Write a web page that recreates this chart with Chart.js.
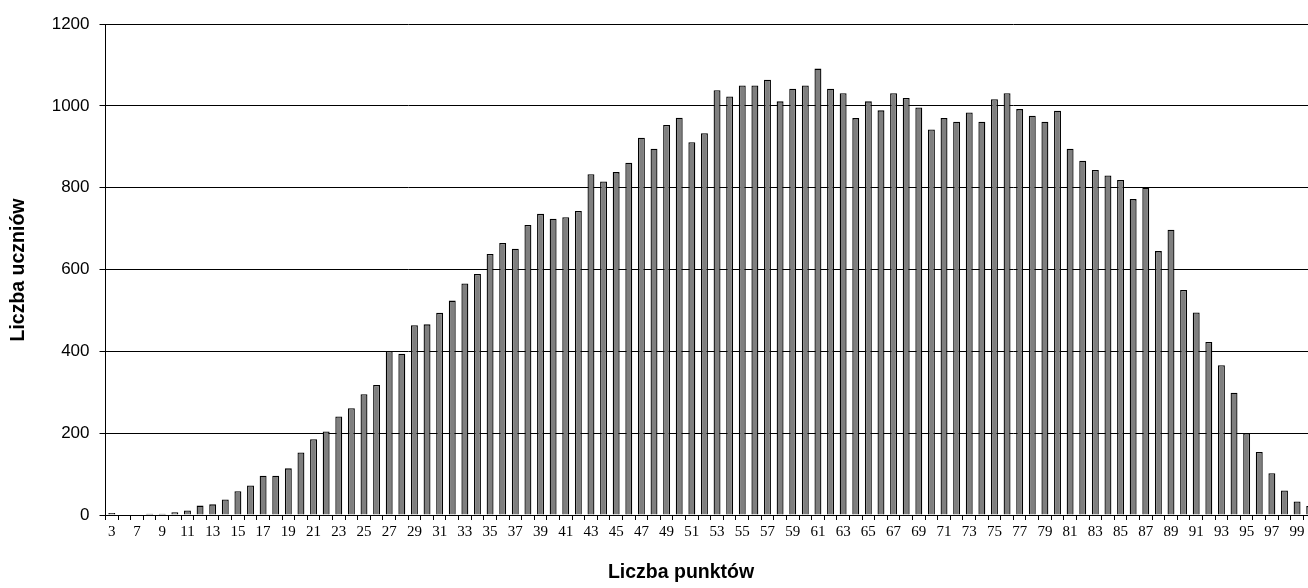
<!DOCTYPE html>
<html>
<head>
<meta charset="utf-8">
<script src="https://cdn.jsdelivr.net/npm/chart.js@4.4.1/dist/chart.umd.min.js"></script>
<style>
  html, body { margin: 0; padding: 0; background: #fff; overflow: hidden; }
  #wrap { width: 1320px; height: 588px; position: relative; }
</style>
</head>
<body>
<div id="wrap"><canvas id="chart"></canvas></div>
<script>
// Liczba punktów (kategorie)
const points = [3, 5, 7, 8, 9, 10, 11, 12, 13, 14, 15, 16, 17, 18, 19, 20, 21, 22, 23, 24,
  25, 26, 27, 28, 29, 30, 31, 32, 33, 34, 35, 36, 37, 38, 39, 40, 41, 42, 43, 44,
  45, 46, 47, 48, 49, 50, 51, 52, 53, 54, 55, 56, 57, 58, 59, 60, 61, 62, 63, 64,
  65, 66, 67, 68, 69, 70, 71, 72, 73, 74, 75, 76, 77, 78, 79, 80, 81, 82, 83, 84,
  85, 86, 87, 88, 89, 90, 91, 92, 93, 94, 95, 96, 97, 98, 99, 100];

// Liczba uczniów
const students = [5, 0, 0, 3, 3, 7, 11, 23, 26, 38, 58, 72, 96, 96, 114, 153, 185, 204, 241, 261,
  295, 318, 401, 394, 464, 466, 494, 524, 566, 589, 638, 665, 651, 709, 736, 724, 728, 743, 833, 815,
  838, 861, 922, 895, 953, 971, 911, 933, 1038, 1023, 1050, 1050, 1064, 1011, 1042, 1050, 1091, 1042, 1031, 970,
  1011, 989, 1031, 1019, 996, 942, 970, 961, 984, 961, 1016, 1031, 992, 976, 961, 988, 895, 866, 843, 830,
  819, 772, 800, 645, 697, 550, 495, 423, 366, 299, 200, 154, 102, 60, 33, 22];

const yTicks = [0, 200, 400, 600, 800, 1000, 1200];

const xTitle = 'Liczba punktów';
const yTitle = 'Liczba uczniów';

// tytuły osi rysowane ręcznie, żeby trafić w położenie z oryginału
const axisTitles = {
  id: 'axisTitles',
  afterDraw(chart) {
    const ctx = chart.ctx;
    ctx.save();
    ctx.fillStyle = '#000';
    ctx.font = 'bold 19.5px "Liberation Sans", Arial, sans-serif';
    ctx.textAlign = 'center';
    ctx.textBaseline = 'middle';
    ctx.fillText(xTitle, 681, 573);
    ctx.translate(19, 270);
    ctx.rotate(-Math.PI / 2);
    ctx.fillText(yTitle, 0, 0);
    ctx.restore();
  }
};

new Chart(document.getElementById('chart'), {
  type: 'bar',
  data: {
    labels: points,
    datasets: [{
      data: students,
      backgroundColor: '#7f7f7f',
      borderColor: '#000',
      borderWidth: 1.3,
      categoryPercentage: 1,
      barPercentage: 0.55
    }]
  },
  options: {
    responsive: true,
    maintainAspectRatio: false,
    animation: false,
    layout: { padding: { top: 24, right: 4, left: 0, bottom: 0 } },
    plugins: {
      legend: { display: false },
      tooltip: { enabled: false }
    },
    scales: {
      x: {
        afterFit: s => { s.height = 73; },
        grid: {
          offset: true,
          drawOnChartArea: false,
          drawTicks: true,
          tickLength: 5,
          color: '#000'
        },
        border: { color: '#000', width: 1 },
        ticks: {
          autoSkip: false,
          maxRotation: 0,
          minRotation: 0,
          padding: 3,
          color: '#000',
          font: { family: '"Liberation Serif", "Times New Roman", serif', size: 15 },
          callback: function (val, i) { return i % 2 === 0 ? String(points[i]) : ''; }
        }
      },
      y: {
        min: 0,
        max: 1200,
        afterFit: s => { s.width = 105.5; },
        afterBuildTicks: s => { s.ticks = yTicks.map(v => ({ value: v })); },
        grid: {
          color: '#000',
          lineWidth: 1,
          drawTicks: true,
          tickLength: 6
        },
        border: { color: '#000', width: 1 },
        ticks: {
          padding: 10,
          color: '#000',
          font: { family: '"Liberation Sans", Arial, sans-serif', size: 17 },
          callback: v => String(v)
        }
      }
    }
  },
  plugins: [axisTitles]
});
</script>
</body>
</html>
